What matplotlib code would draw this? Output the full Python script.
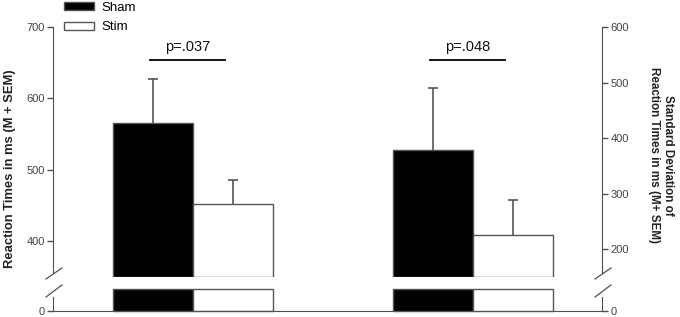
import matplotlib
matplotlib.use("Agg")
import matplotlib.pyplot as plt
import numpy as np

plt.rcParams['font.family'] = ['Liberation Sans', 'DejaVu Sans']

conditions = ["Sham", "Stim"]
# Group 1: mean reaction time (left axis)
rt_mean = [566, 452]
rt_sem = [61, 34]
# Group 2: SD of reaction times (right axis)
sd_mean = [379, 226]
sd_sem = [111, 63]
p_labels = ["p=.037", "p=.048"]

left_upper = (350, 700)
right_upper = (150, 600)
left_lower = (0, 31)
right_lower = (0, 40)
left_ticks = [400, 500, 600, 700]
right_ticks = [200, 300, 400, 500, 600]

W, H = 680, 317
fig = plt.figure(figsize=(W/100, H/100), dpi=100)

def fx(px): return px / W
def fy(py): return 1 - py / H

x0, x1 = 53, 602
ax_u = fig.add_axes([fx(x0), fy(277), fx(x1) - fx(x0), fy(27) - fy(277)])
ax_l = fig.add_axes([fx(x0), fy(311), fx(x1) - fx(x0), fy(289) - fy(311)])
ax_u2 = ax_u.twinx()
ax_l2 = ax_l.twinx()

edge = '#555555'
fills = ['black', 'white']
w = 0.2857
offsets = [-w/2, w/2]
lw = 1.0

for a in (ax_u, ax_l, ax_u2, ax_l2):
    a.set_xlim(-0.5, 1.4607)
    a.set_xticks([])
    a.spines['top'].set_visible(False)
    a.patch.set_visible(False)

ax_u.set_ylim(*left_upper)
ax_u2.set_ylim(*right_upper)
ax_l.set_ylim(*left_lower)
ax_l2.set_ylim(*right_lower)

def err(a, x, m, s):
    a.vlines(x, m, m + s, color=edge, lw=1.2)
    a.plot([x], [m + s], marker='_', ms=7, mew=1.2, color=edge)

handles = []
for i, c in enumerate(conditions):
    # group 1, left axis
    xpos = 0 + offsets[i]
    b = ax_u.bar(xpos, rt_mean[i] - left_upper[0], bottom=left_upper[0], width=w,
                 color=fills[i], edgecolor=edge, linewidth=lw, label=c)
    handles.append(b)
    err(ax_u, xpos, rt_mean[i], rt_sem[i])
    ax_l.bar(xpos, min(rt_mean[i], left_lower[1]), width=w, color=fills[i],
             edgecolor=edge, linewidth=lw, clip_on=False)
    # group 2, right axis
    xpos = 1 + offsets[i]
    ax_u2.bar(xpos, sd_mean[i] - right_upper[0], bottom=right_upper[0], width=w,
              color=fills[i], edgecolor=edge, linewidth=lw)
    err(ax_u2, xpos, sd_mean[i], sd_sem[i])
    ax_l2.bar(xpos, min(sd_mean[i], right_lower[1]), width=w, color=fills[i],
              edgecolor=edge, linewidth=lw, clip_on=False)

# spines
spc = '#505050'
for a in (ax_u, ax_u2):
    a.spines['bottom'].set_visible(False)
for a in (ax_u, ax_l):
    a.spines['right'].set_visible(False)
    a.spines['left'].set_color(spc)
for a in (ax_u2, ax_l2):
    a.spines['left'].set_visible(False)
    a.spines['right'].set_color(spc)
ax_l.spines['bottom'].set_color(spc)
ax_l2.spines['bottom'].set_visible(False)

ax_u.spines['left'].set_bounds(356, 700)
ax_u2.spines['right'].set_bounds(158, 600)
ax_l.spines['left'].set_bounds(0, 20)
ax_l2.spines['right'].set_bounds(0, 25)

ax_u.set_yticks(left_ticks)
ax_u2.set_yticks(right_ticks)
ax_l.set_yticks([0])
ax_l2.set_yticks([0])
for a in (ax_u, ax_u2, ax_l, ax_l2):
    a.tick_params(axis='y', direction='out', length=4, width=1, color=spc,
                  labelsize=8, labelcolor='#444444', pad=2)

# break marks
for xb in (x0, x1):
    for (ya, yb) in ((279, 268), (297, 285)):
        fig.add_artist(plt.Line2D([fx(xb - 7), fx(xb + 9)], [fy(ya), fy(yb)],
                                  color=spc, lw=0.9))

# significance lines
trans = ax_u.get_xaxis_transform()
ly = (277 - 60) / (277 - 27)
ty = (277 - 47) / (277 - 27)
for g, p in enumerate(p_labels):
    xa = g - w/2 - 0.01
    xb = g + w/2 - 0.03
    ax_u.plot([xa, xb], [ly, ly], color='black', lw=1.3, transform=trans, clip_on=False)
    ax_u.text((xa + xb) / 2, ty, p, transform=trans, ha='center', va='center',
              fontsize=10.5, color='#111111')

# axis labels
fig.text(fx(10), fy(169), "Reaction Times in ms (M + SEM)", rotation=90,
         ha='center', va='center', fontsize=9.4, fontweight='bold', color='#222222')
fig.text(fx(661), fy(155), "Standard Deviation of\nReaction Times in ms (M+ SEM)",
         rotation=270, ha='center', va='center', fontsize=8.4, fontweight='bold',
         color='#222222', linespacing=1.15, multialignment='center')

fig.legend(handles=handles, labels=conditions, loc='upper left',
           bbox_to_anchor=(fx(64), fy(2)), frameon=False, fontsize=9.5,
           handlelength=2.3, handleheight=0.55, labelspacing=0.55,
           handletextpad=0.55, borderaxespad=0, borderpad=0.0)

fig.savefig("out.png", dpi=100)
